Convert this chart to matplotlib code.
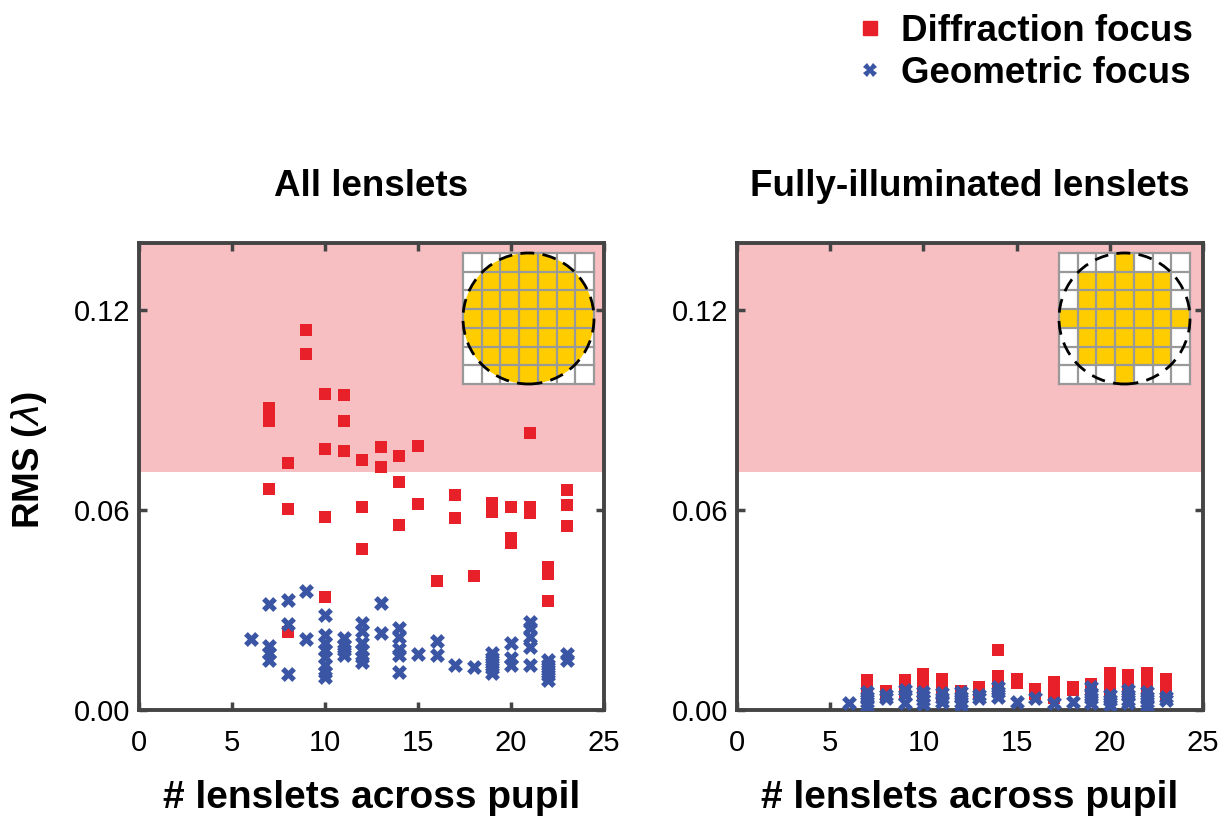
import numpy as np
import matplotlib
matplotlib.use("Agg")
import matplotlib.pyplot as plt
from matplotlib.patches import Rectangle, Circle
from matplotlib.lines import Line2D

plt.rcParams['font.family'] = ['Liberation Sans', 'DejaVu Sans']

# ---- data (RMS in waves) ----
all_diff_x = [7, 7, 7, 7, 8, 8, 8, 9, 9, 10, 10, 10, 10, 11, 11, 11, 12, 12, 12,
              13, 13, 14, 14, 14, 15, 15, 16, 17, 17, 18, 19, 19, 20, 20, 20,
              21, 21, 21, 22, 22, 22, 23, 23, 23]
all_diff_y = [0.0905, 0.0885, 0.0865, 0.0662, 0.074, 0.0602, 0.0235, 0.114, 0.1068,
              0.0947, 0.0783, 0.0578, 0.034, 0.0943, 0.0867, 0.0777, 0.075, 0.061, 0.0482,
              0.0788, 0.0728, 0.076, 0.0685, 0.0555, 0.0792, 0.0617, 0.0388, 0.0645, 0.0575,
              0.0402, 0.0622, 0.0595, 0.061, 0.0515, 0.050, 0.083, 0.061, 0.0592,
              0.0429, 0.0408, 0.0328, 0.066, 0.0614, 0.0553]

all_geo_x = [6, 7, 7, 7, 7, 8, 8, 8, 9, 9,
             10, 10, 10, 10, 10, 10, 10, 10, 11, 11, 11, 11,
             12, 12, 12, 12, 12, 12, 13, 13, 14, 14, 14, 14, 14, 15, 16, 16, 17, 18,
             19, 19, 19, 19, 19, 20, 20, 20, 21, 21, 21, 21, 21,
             22, 22, 22, 22, 22, 23, 23]
all_geo_y = [0.0212, 0.0318, 0.0192, 0.017, 0.015, 0.033, 0.0257, 0.0107, 0.0357, 0.0212,
             0.0285, 0.0225, 0.020, 0.018, 0.016, 0.0135, 0.0115, 0.0098,
             0.0215, 0.0195, 0.018, 0.0165,
             0.026, 0.0237, 0.020, 0.018, 0.016, 0.0145, 0.0322, 0.0232,
             0.0245, 0.022, 0.0182, 0.0165, 0.0115, 0.0168, 0.0207, 0.0165, 0.0135, 0.013,
             0.017, 0.0155, 0.014, 0.0125, 0.011, 0.020, 0.0155, 0.0135,
             0.0265, 0.0245, 0.022, 0.019, 0.0135,
             0.015, 0.0135, 0.012, 0.0105, 0.009, 0.0168, 0.015]

full_diff_x = [7, 7, 7, 7, 8, 8, 9, 9, 9, 10, 10, 10, 10, 11, 11, 11, 11, 12, 12,
               13, 13, 14, 14, 14, 14, 15, 15, 16, 16, 17, 17, 17, 17, 18, 18, 19, 19,
               20, 20, 20, 20, 20, 21, 21, 21, 21, 22, 22, 22, 22, 23, 23, 23, 23]
full_diff_y = [0.0090, 0.0072, 0.0055, 0.0035, 0.0057, 0.0042, 0.0090, 0.0072, 0.0052,
               0.0107, 0.0090, 0.0072, 0.0052, 0.0094, 0.0077, 0.0058, 0.0040, 0.0057, 0.0040,
               0.0070, 0.0052, 0.0180, 0.0102, 0.0085, 0.0068, 0.0094, 0.0080, 0.0064, 0.0048,
               0.0085, 0.0068, 0.0050, 0.0035, 0.0070, 0.0060, 0.0077, 0.0060,
               0.0112, 0.0095, 0.0078, 0.0060, 0.0045, 0.0104, 0.0088, 0.0072, 0.0058,
               0.0110, 0.0093, 0.0076, 0.0060, 0.0094, 0.0078, 0.0060, 0.0045]

full_geo_x = [6, 7, 7, 7, 7, 8, 8, 9, 9, 9, 10, 10, 10, 10, 11, 11, 11,
              12, 12, 12, 12, 13, 13, 14, 14, 14, 15, 16, 17, 18,
              19, 19, 19, 19, 20, 20, 20, 21, 21, 21, 21, 22, 22, 22, 22, 23, 23]
full_geo_y = [0.0022, 0.0055, 0.0040, 0.0025, 0.0012, 0.0045, 0.0035, 0.0060, 0.0045, 0.0022,
              0.0055, 0.0042, 0.0030, 0.0018, 0.0050, 0.0035, 0.0025,
              0.0055, 0.0040, 0.0025, 0.0015, 0.0045, 0.0035, 0.0068, 0.0055, 0.0040,
              0.0025, 0.0035, 0.0022, 0.0025,
              0.0068, 0.0050, 0.0035, 0.0020, 0.0045, 0.0030, 0.0015,
              0.0060, 0.0045, 0.0030, 0.0020, 0.0055, 0.0040, 0.0025, 0.0012, 0.0040, 0.0030]

# fully illuminated lenslets on the 7x7 grid (inset of right panel)
full_mask = ["...#...",
             ".#####.",
             ".#####.",
             "#######",
             ".#####.",
             ".#####.",
             "...#..."]

threshold = 1 / 14.0
red = '#E8202A'
blue = '#3A55A4'
pink = '#F7BFC2'
yellow = '#FFCC00'
frame = '#444444'

W, H = 1232, 819
fig = plt.figure(figsize=(W / 100, H / 100), dpi=100)


def px_axes(l, t, r, b):
    return fig.add_axes([l / W, 1 - b / H, (r - l) / W, (b - t) / H])


def style(ax, title):
    ax.axhspan(threshold, 0.14, color=pink, lw=0, zorder=0)
    ax.set_xlim(0, 25)
    ax.set_ylim(0, 0.14)
    ax.set_xticks([0, 5, 10, 15, 20, 25])
    ax.set_yticks([0, 0.06, 0.12])
    ax.set_yticklabels(['0.00', '0.06', '0.12'])
    ax.tick_params(direction='in', length=6, width=2.5, color=frame, top=True, right=True,
                   labelsize=21)
    ax.tick_params(axis='x', pad=14)
    ax.tick_params(axis='y', pad=6)
    for s in ax.spines.values():
        s.set_color(frame)
        s.set_linewidth(2.8)
    ax.set_title(title, fontsize=26.5, fontweight='bold', pad=34)
    ax.set_xlabel('# lenslets across pupil', fontsize=28, fontweight='bold', labelpad=16)


def inset(l, t, size, mask=None):
    a = px_axes(l, t, l + size, t + size)
    a.set_xlim(0, 7)
    a.set_ylim(0, 7)
    a.set_aspect('equal')
    a.axis('off')
    a.add_patch(Rectangle((0, 0), 7, 7, facecolor='white', edgecolor='none', zorder=0))
    if mask is None:
        a.add_patch(Circle((3.5, 3.5), 3.5, facecolor=yellow, edgecolor='none', zorder=1))
    else:
        for r, row in enumerate(mask):
            for c, ch in enumerate(row):
                if ch == '#':
                    a.add_patch(Rectangle((c, 6 - r), 1, 1, facecolor=yellow,
                                          edgecolor='none', zorder=1))
    for k in range(8):
        a.plot([k, k], [0, 7], color='#999999', lw=1.6, zorder=2, clip_on=False)
        a.plot([0, 7], [k, k], color='#999999', lw=1.6, zorder=2, clip_on=False)
    a.add_patch(Circle((3.5, 3.5), 3.5, facecolor='none', edgecolor='black', lw=2,
                       linestyle=(0, (5, 3)), zorder=3, clip_on=False))


ax1 = px_axes(139, 243, 604, 710)
style(ax1, 'All lenslets')
ax1.scatter(all_diff_x, all_diff_y, marker='s', s=80, color=red, lw=0, zorder=3)
ax1.scatter(all_geo_x, all_geo_y, marker='X', s=115, color=blue, lw=0, zorder=4)
ax1.set_ylabel(r'RMS ($\lambda$)', fontsize=26.5, fontweight='bold')
ax1.yaxis.set_label_coords(-0.193, 0.535)

ax2 = px_axes(737, 243, 1203, 710)
style(ax2, 'Fully-illuminated lenslets')
ax2.scatter(full_diff_x, full_diff_y, marker='s', s=80, color=red, lw=0, zorder=3)
ax2.scatter(full_geo_x, full_geo_y, marker='X', s=115, color=blue, lw=0, zorder=4)

inset(463, 253, 131)
inset(1059, 253, 131, full_mask)

handles = [Line2D([], [], marker='s', color=red, ls='none', markersize=10),
           Line2D([], [], marker='X', color=blue, ls='none', markersize=10, markeredgewidth=0)]
fig.legend(handles, ['Diffraction focus', 'Geometric focus'], loc='upper right',
           bbox_to_anchor=(1215 / W, 1.01), frameon=False, handlelength=0.6,
           handletextpad=0.55, labelspacing=0.2, borderaxespad=0.2,
           prop={'size': 26.5, 'weight': 'bold'})

fig.savefig('out.png', dpi=100)
